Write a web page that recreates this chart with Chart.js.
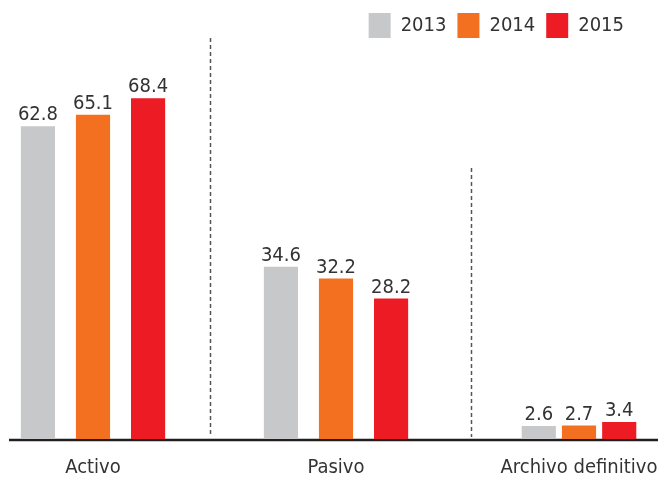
<!DOCTYPE html>
<html>
<head>
<meta charset="utf-8">
<script src="https://cdn.jsdelivr.net/npm/chart.js@4"></script>
<style>
  html, body { margin: 0; padding: 0; background: #fff; }
  #wrap { width: 659px; height: 481px; }
</style>
</head>
<body>
<div id="wrap"><canvas id="bars"></canvas></div>
<script>
const categories = ['Activo', 'Pasivo', 'Archivo definitivo'];
const years = ['2013', '2014', '2015'];
const values2013 = [62.8, 34.6, 2.6];
const values2014 = [65.1, 32.2, 2.7];
const values2015 = [68.4, 28.2, 3.4];
const yearColors = ['#C7C8CA', '#F37021', '#ED1C24'];

// separators between groups (category units) and how high they reach (value units)
const dividerAt = [0.48, 1.555];
const dividerTop = [80.5, 54.4];

const FONT = '"DejaVu Sans Condensed", "Liberation Sans", Roboto, sans-serif';
const TEXT = '#333333';

Chart.defaults.font.family = FONT;
Chart.defaults.color = TEXT;

// last group sits tighter than the other two
const tightLastGroup = {
  id: 'tightLastGroup',
  afterDatasetsUpdate(chart) {
    const last = categories.length - 1;
    const cx = chart.scales.x.getPixelForValue(last);
    chart.data.datasets.forEach((ds, i) => {
      const bar = chart.getDatasetMeta(i).data[last];
      bar.x = cx + (bar.x - cx) * 0.73;
    });
  }
};

// baseline + dashed separators
const decor = {
  id: 'decor',
  beforeDatasetsDraw(chart) {
    const {ctx, scales: {x, y}} = chart;
    const y0 = y.getPixelForValue(0);
    ctx.save();
    ctx.strokeStyle = '#555';
    ctx.lineWidth = 1.5;
    ctx.setLineDash([4, 3]);
    dividerAt.forEach((v, i) => {
      const px = Math.round(x.getPixelForValue(v)) + 0.5;
      ctx.beginPath();
      ctx.moveTo(px, y.getPixelForValue(dividerTop[i]));
      ctx.lineTo(px, y0 - 2);
      ctx.stroke();
    });
    ctx.setLineDash([]);
    ctx.strokeStyle = '#231F20';
    ctx.lineWidth = 2.5;
    ctx.beginPath();
    ctx.moveTo(9, y0 + 1);
    ctx.lineTo(chart.width - 1, y0 + 1);
    ctx.stroke();
    ctx.restore();
  }
};

// numbers above the bars
const valueLabels = {
  id: 'valueLabels',
  afterDatasetsDraw(chart) {
    const {ctx} = chart;
    ctx.save();
    ctx.font = '20px ' + FONT;
    ctx.fillStyle = TEXT;
    ctx.textAlign = 'center';
    ctx.textBaseline = 'alphabetic';
    chart.data.datasets.forEach((ds, i) => {
      chart.getDatasetMeta(i).data.forEach((bar, j) => {
        ctx.fillText(ds.data[j].toFixed(1), bar.x, bar.y - 6);
      });
    });
    ctx.restore();
  }
};

new Chart(document.getElementById('bars'), {
  type: 'bar',
  data: {
    labels: categories,
    datasets: [values2013, values2014, values2015].map((vals, i) => ({
      label: years[i],
      data: vals,
      backgroundColor: yearColors[i],
      borderWidth: 0,
      barPercentage: 0.62,
      categoryPercentage: 0.68,
      clip: false
    }))
  },
  options: {
    responsive: true,
    maintainAspectRatio: false,
    animation: false,
    layout: {
      padding: { left: 0, right: 24, top: 2, bottom: 0 }
    },
    plugins: {
      legend: {
        position: 'top',
        align: 'end',
        labels: {
          font: { size: 20 },
          color: TEXT,
          boxWidth: 22,
          boxHeight: 25,
          padding: 11
        }
      },
      tooltip: { enabled: false }
    },
    scales: {
      x: {
        offset: false,
        grid: { display: false, drawTicks: false },
        border: { display: false },
        ticks: {
          font: { size: 20 },
          color: TEXT,
          padding: 17,
          maxRotation: 0,
          autoSkip: false
        },
        afterFit(scale) {
          // group centres sit well inside the canvas edges
          scale.paddingLeft = 93;
          scale.paddingRight = 80;
          scale.height = 42;
        }
      },
      y: {
        display: false,
        min: 0,
        max: 78.5,
        grid: { display: false }
      }
    }
  },
  plugins: [tightLastGroup, decor, valueLabels]
});
</script>
</body>
</html>
